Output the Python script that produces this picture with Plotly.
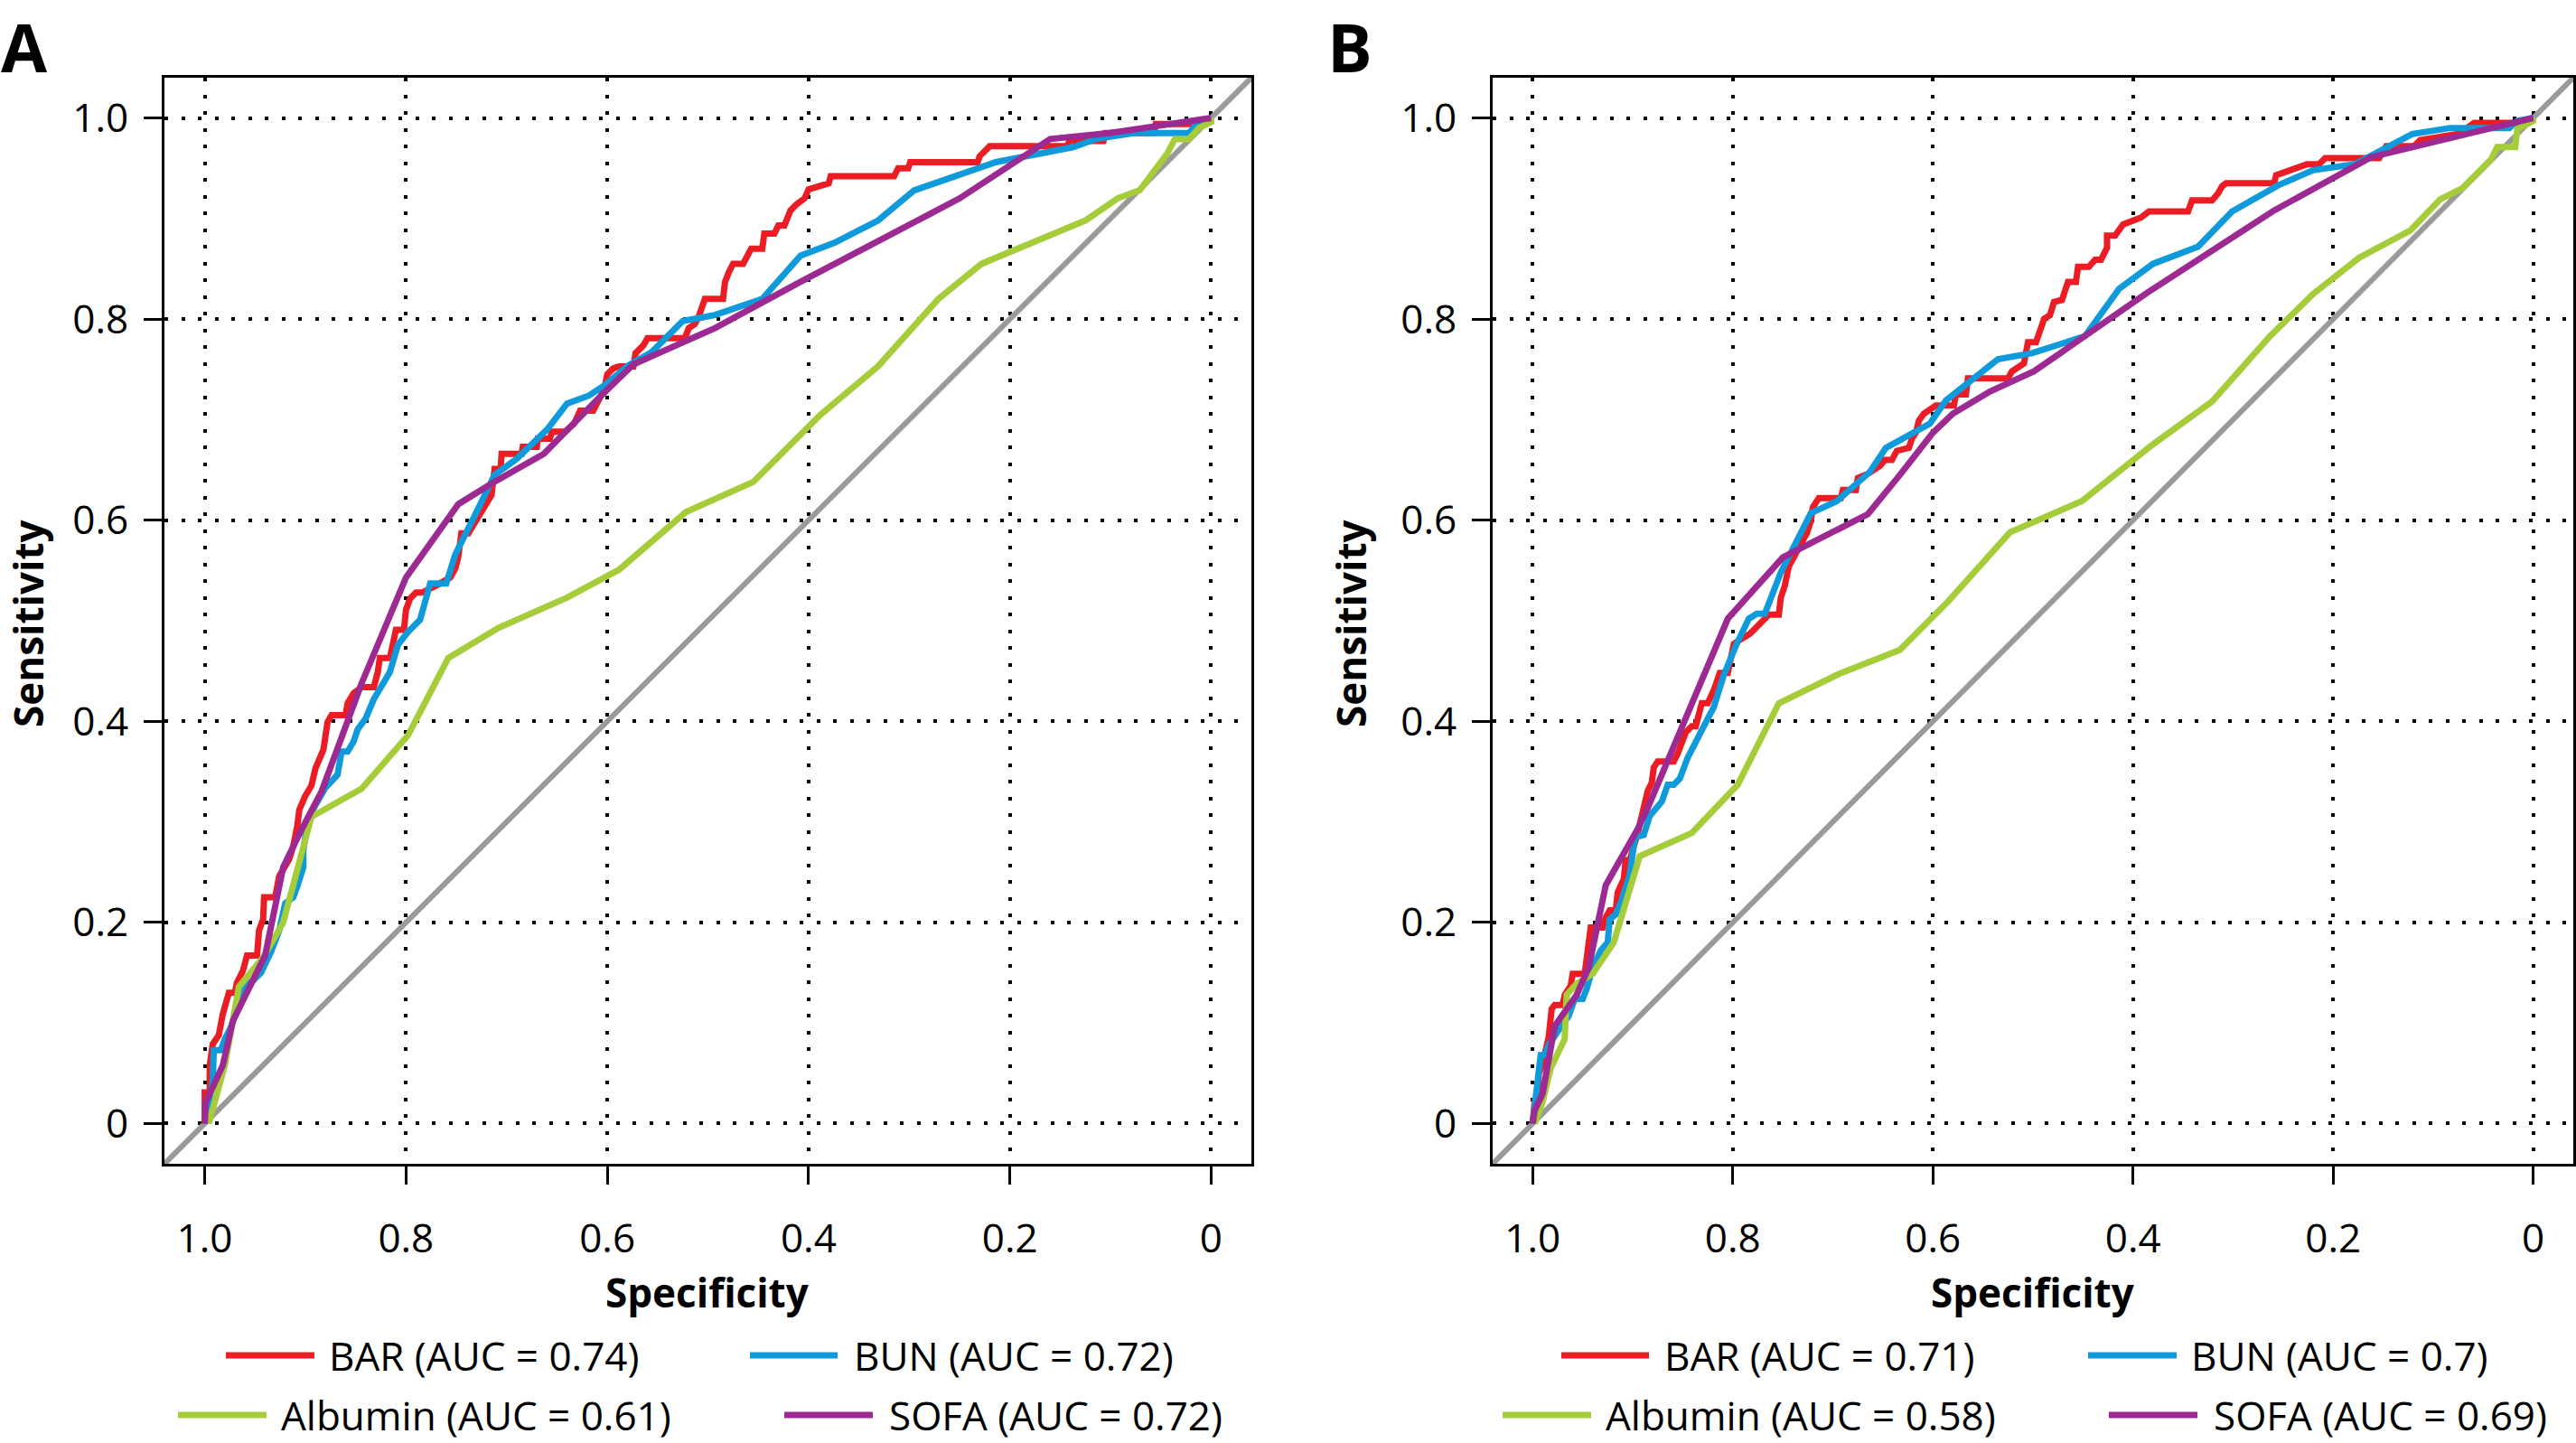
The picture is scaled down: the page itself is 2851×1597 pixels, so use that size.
import plotly.graph_objects as go

# ---------------- data (specificity, sensitivity) ----------------
# Panel A
a_bar_spec = [1.0, 1.0, 0.995, 0.995, 0.992, 0.986, 0.982, 0.978, 0.976, 0.97, 0.968, 0.962, 0.958, 0.948, 0.946, 0.942, 0.941, 0.93, 0.926, 0.916, 0.912, 0.908, 0.906, 0.9, 0.894, 0.89, 0.886, 0.882, 0.878, 0.874, 0.86, 0.858, 0.852, 0.844, 0.832, 0.828, 0.826, 0.816, 0.81, 0.802, 0.8, 0.796, 0.79, 0.784, 0.77, 0.756, 0.751, 0.748, 0.745, 0.738, 0.721, 0.715, 0.712, 0.706, 0.705, 0.685, 0.684, 0.67, 0.669, 0.657, 0.655, 0.642, 0.633, 0.627, 0.614, 0.609, 0.603, 0.6, 0.594, 0.588, 0.574, 0.572, 0.564, 0.56, 0.523, 0.519, 0.513, 0.509, 0.503, 0.485, 0.483, 0.479, 0.475, 0.465, 0.457, 0.446, 0.444, 0.434, 0.43, 0.424, 0.418, 0.412, 0.404, 0.4, 0.38, 0.378, 0.315, 0.311, 0.301, 0.299, 0.232, 0.23, 0.22, 0.143, 0.141, 0.107, 0.105, 0.057, 0.055, 0.012, 0.0]
a_bar_sens = [0.0, 0.031, 0.031, 0.058, 0.079, 0.088, 0.109, 0.127, 0.13, 0.13, 0.14, 0.152, 0.167, 0.167, 0.192, 0.203, 0.225, 0.225, 0.246, 0.263, 0.276, 0.296, 0.312, 0.326, 0.336, 0.353, 0.363, 0.372, 0.399, 0.406, 0.406, 0.418, 0.428, 0.434, 0.434, 0.449, 0.463, 0.463, 0.491, 0.491, 0.511, 0.522, 0.528, 0.528, 0.535, 0.543, 0.552, 0.564, 0.587, 0.587, 0.615, 0.625, 0.651, 0.651, 0.666, 0.666, 0.673, 0.673, 0.681, 0.681, 0.688, 0.688, 0.696, 0.709, 0.709, 0.719, 0.73, 0.745, 0.751, 0.753, 0.753, 0.766, 0.774, 0.781, 0.781, 0.791, 0.795, 0.803, 0.82, 0.82, 0.837, 0.847, 0.855, 0.855, 0.87, 0.87, 0.885, 0.885, 0.893, 0.893, 0.908, 0.914, 0.92, 0.929, 0.935, 0.942, 0.942, 0.95, 0.95, 0.956, 0.956, 0.962, 0.972, 0.972, 0.977, 0.977, 0.985, 0.985, 0.994, 0.994, 1.0]

a_bun_spec = [1.0, 0.992, 0.991, 0.984, 0.98, 0.974, 0.966, 0.96, 0.952, 0.944, 0.934, 0.926, 0.92, 0.912, 0.908, 0.902, 0.902, 0.898, 0.892, 0.88, 0.868, 0.864, 0.858, 0.852, 0.848, 0.84, 0.832, 0.816, 0.808, 0.798, 0.786, 0.776, 0.76, 0.751, 0.729, 0.712, 0.69, 0.66, 0.64, 0.618, 0.603, 0.579, 0.556, 0.525, 0.493, 0.446, 0.408, 0.374, 0.331, 0.295, 0.214, 0.137, 0.115, 0.077, 0.022, 0.016, 0.0]
a_bun_sens = [0.0, 0.042, 0.073, 0.073, 0.084, 0.096, 0.117, 0.138, 0.142, 0.15, 0.171, 0.192, 0.219, 0.225, 0.236, 0.255, 0.271, 0.301, 0.313, 0.334, 0.347, 0.37, 0.37, 0.38, 0.392, 0.403, 0.422, 0.449, 0.476, 0.489, 0.501, 0.537, 0.537, 0.566, 0.61, 0.645, 0.661, 0.69, 0.716, 0.724, 0.734, 0.754, 0.767, 0.798, 0.804, 0.82, 0.863, 0.876, 0.898, 0.928, 0.956, 0.971, 0.979, 0.985, 0.985, 0.992, 1.0]

a_alb_spec = [0.996, 0.98, 0.966, 0.942, 0.922, 0.894, 0.844, 0.798, 0.758, 0.708, 0.64, 0.588, 0.522, 0.455, 0.388, 0.331, 0.271, 0.228, 0.125, 0.093, 0.071, 0.044, 0.036, 0.022, 0.012, 0.0, 0.0]
a_alb_sens = [0.0, 0.058, 0.136, 0.165, 0.2, 0.305, 0.333, 0.386, 0.463, 0.493, 0.523, 0.551, 0.608, 0.638, 0.705, 0.753, 0.82, 0.855, 0.898, 0.92, 0.928, 0.964, 0.979, 0.979, 0.99, 0.996, 1.0]

a_sofa_spec = [1.0, 0.999, 0.982, 0.972, 0.94, 0.922, 0.904, 0.884, 0.844, 0.8, 0.748, 0.714, 0.663, 0.633, 0.606, 0.574, 0.493, 0.408, 0.25, 0.16, 0.101, 0.0]
a_sofa_sens = [0.0, 0.021, 0.058, 0.102, 0.167, 0.255, 0.292, 0.33, 0.438, 0.543, 0.616, 0.637, 0.666, 0.697, 0.724, 0.755, 0.791, 0.837, 0.92, 0.979, 0.985, 1.0]

# Panel B
b_bar_spec = [1.0, 0.998, 0.994, 0.994, 0.99, 0.984, 0.981, 0.978, 0.97, 0.968, 0.962, 0.96, 0.948, 0.946, 0.944, 0.942, 0.93, 0.927, 0.923, 0.917, 0.915, 0.909, 0.907, 0.903, 0.895, 0.891, 0.889, 0.885, 0.881, 0.879, 0.875, 0.859, 0.855, 0.851, 0.847, 0.841, 0.837, 0.831, 0.825, 0.819, 0.813, 0.805, 0.799, 0.793, 0.783, 0.776, 0.77, 0.764, 0.754, 0.752, 0.748, 0.744, 0.726, 0.722, 0.72, 0.714, 0.692, 0.69, 0.677, 0.675, 0.665, 0.653, 0.648, 0.641, 0.636, 0.624, 0.621, 0.617, 0.614, 0.609, 0.597, 0.579, 0.577, 0.567, 0.565, 0.525, 0.521, 0.513, 0.509, 0.505, 0.497, 0.491, 0.489, 0.483, 0.479, 0.471, 0.465, 0.457, 0.455, 0.444, 0.438, 0.432, 0.426, 0.426, 0.418, 0.41, 0.392, 0.384, 0.345, 0.341, 0.321, 0.315, 0.311, 0.307, 0.259, 0.257, 0.236, 0.226, 0.214, 0.208, 0.154, 0.147, 0.119, 0.113, 0.075, 0.059, 0.008, 0.0]
b_bar_sens = [0.0, 0.022, 0.022, 0.049, 0.06, 0.086, 0.114, 0.118, 0.118, 0.128, 0.137, 0.149, 0.149, 0.166, 0.178, 0.195, 0.195, 0.205, 0.212, 0.212, 0.23, 0.243, 0.262, 0.262, 0.289, 0.306, 0.314, 0.331, 0.339, 0.354, 0.36, 0.36, 0.368, 0.379, 0.389, 0.395, 0.395, 0.418, 0.418, 0.431, 0.448, 0.448, 0.477, 0.481, 0.487, 0.494, 0.5, 0.506, 0.506, 0.523, 0.535, 0.554, 0.587, 0.599, 0.613, 0.622, 0.622, 0.63, 0.63, 0.642, 0.646, 0.654, 0.66, 0.66, 0.669, 0.672, 0.681, 0.687, 0.699, 0.706, 0.714, 0.714, 0.725, 0.725, 0.741, 0.741, 0.748, 0.753, 0.756, 0.777, 0.777, 0.794, 0.8, 0.804, 0.817, 0.819, 0.837, 0.837, 0.852, 0.852, 0.859, 0.859, 0.871, 0.883, 0.883, 0.894, 0.901, 0.907, 0.907, 0.918, 0.918, 0.925, 0.932, 0.935, 0.935, 0.943, 0.95, 0.954, 0.954, 0.96, 0.96, 0.972, 0.972, 0.978, 0.984, 0.995, 0.995, 1.0]

b_bun_spec = [1.0, 0.996, 0.992, 0.988, 0.984, 0.974, 0.964, 0.958, 0.95, 0.946, 0.94, 0.932, 0.925, 0.923, 0.917, 0.911, 0.903, 0.899, 0.897, 0.889, 0.883, 0.871, 0.865, 0.859, 0.853, 0.845, 0.837, 0.829, 0.819, 0.809, 0.797, 0.784, 0.776, 0.768, 0.752, 0.722, 0.696, 0.675, 0.663, 0.647, 0.621, 0.603, 0.587, 0.561, 0.535, 0.501, 0.483, 0.448, 0.414, 0.38, 0.335, 0.301, 0.255, 0.22, 0.178, 0.121, 0.083, 0.024, 0.016, 0.0]
b_bun_sens = [0.0, 0.03, 0.068, 0.068, 0.078, 0.093, 0.107, 0.124, 0.124, 0.134, 0.155, 0.172, 0.18, 0.203, 0.208, 0.222, 0.247, 0.276, 0.285, 0.287, 0.306, 0.32, 0.337, 0.337, 0.343, 0.364, 0.381, 0.395, 0.414, 0.446, 0.475, 0.502, 0.507, 0.507, 0.548, 0.607, 0.619, 0.637, 0.648, 0.672, 0.687, 0.696, 0.719, 0.74, 0.76, 0.766, 0.772, 0.783, 0.83, 0.855, 0.872, 0.907, 0.933, 0.948, 0.954, 0.984, 0.99, 0.99, 0.997, 1.0]

b_alb_spec = [0.998, 0.99, 0.982, 0.974, 0.968, 0.966, 0.956, 0.94, 0.919, 0.893, 0.841, 0.795, 0.754, 0.692, 0.633, 0.585, 0.523, 0.451, 0.382, 0.321, 0.263, 0.22, 0.174, 0.123, 0.093, 0.071, 0.042, 0.036, 0.018, 0.016, 0.0, 0.0]
b_alb_sens = [0.0, 0.022, 0.055, 0.07, 0.084, 0.128, 0.139, 0.149, 0.18, 0.266, 0.289, 0.337, 0.418, 0.448, 0.471, 0.519, 0.588, 0.619, 0.674, 0.718, 0.783, 0.825, 0.861, 0.888, 0.919, 0.93, 0.959, 0.971, 0.971, 0.989, 0.997, 1.0]

b_sofa_spec = [1.0, 0.998, 0.99, 0.978, 0.956, 0.944, 0.927, 0.895, 0.885, 0.805, 0.75, 0.665, 0.633, 0.6, 0.58, 0.543, 0.499, 0.386, 0.259, 0.162, 0.0]
b_sofa_sens = [0.0, 0.013, 0.03, 0.097, 0.128, 0.155, 0.237, 0.293, 0.314, 0.502, 0.563, 0.606, 0.645, 0.687, 0.706, 0.728, 0.748, 0.826, 0.908, 0.961, 1.0]

# reference (chance) line
diag_spec = [1.1, -0.1]
diag_sens = [-0.1, 1.1]

tick_vals = [0, 0.2, 0.4, 0.6, 0.8, 1.0]
tick_text = ["0", "0.2", "0.4", "0.6", "0.8", "1.0"]

series_names = ["BAR", "BUN", "Albumin", "SOFA"]
auc_a = ["0.74", "0.72", "0.61", "0.72"]
auc_b = ["0.71", "0.7", "0.58", "0.69"]
colors = ["#EC1C24", "#0E9ADB", "#A5CD39", "#9C2A92"]
grey = "#9A9A9A"

W, H = 2851, 1597
FONT = "Open Sans"

def px(xp):
    return xp / W

def py(yp):
    return 1 - yp / H

fig = go.Figure()

panels = [
    ("x", "y", [(a_bar_spec, a_bar_sens), (a_bun_spec, a_bun_sens),
                (a_alb_spec, a_alb_sens), (a_sofa_spec, a_sofa_sens)]),
    ("x2", "y2", [(b_bar_spec, b_bar_sens), (b_bun_spec, b_bun_sens),
                  (b_alb_spec, b_alb_sens), (b_sofa_spec, b_sofa_sens)]),
]

for xa, ya, curves in panels:
    fig.add_trace(go.Scatter(x=diag_spec, y=diag_sens, mode="lines",
                             line=dict(color=grey, width=6),
                             xaxis=xa, yaxis=ya, showlegend=False, hoverinfo="skip"))
    for (sx, sy), c in zip(curves, colors):
        fig.add_trace(go.Scatter(x=sx, y=sy, mode="lines",
                                 line=dict(color=c, width=7),
                                 xaxis=xa, yaxis=ya, showlegend=False))

axis_common = dict(
    tickvals=tick_vals, ticktext=tick_text,
    ticks="outside", ticklen=20, tickwidth=3, tickcolor="black",
    showline=True, linecolor="black", linewidth=3, mirror=True,
    showgrid=True, gridcolor="black", gridwidth=4, griddash="4px,14.5px",
    zeroline=False,
    tickfont=dict(family=FONT, size=44, color="black"),
)

ydom = [py(1288), py(86)]
fig.update_layout(
    width=W, height=H,
    margin=dict(l=0, r=0, t=0, b=0),
    paper_bgcolor="white", plot_bgcolor="white",
    showlegend=False,
    xaxis=dict(domain=[px(182), px(1385)], range=[1.04, -0.04], anchor="y",
               ticklabelstandoff=22, **axis_common),
    yaxis=dict(domain=ydom, range=[-0.04, 1.04], anchor="x",
               ticklabelstandoff=8, **axis_common),
    xaxis2=dict(domain=[px(1652), px(2848)], range=[1.04, -0.04], anchor="y2",
                ticklabelstandoff=22, **axis_common),
    yaxis2=dict(domain=ydom, range=[-0.04, 1.04], anchor="x2",
                ticklabelstandoff=8, **axis_common),
)

annotations = []
shapes = []

# panel letters
for letter, xl in [("A", 0), ("B", 1468)]:
    annotations.append(dict(text="<b>%s</b>" % letter, x=px(xl), y=py(0),
                            xref="paper", yref="paper", xanchor="left", yanchor="top",
                            borderpad=0, showarrow=False,
                            font=dict(family=FONT, size=74, color="black")))

# axis titles
for xc, ylab_x in [(783, 31), (2250, 1495)]:
    annotations.append(dict(text="<b>Specificity</b>", x=px(xc), y=py(1430),
                            xref="paper", yref="paper", xanchor="center", yanchor="middle",
                            showarrow=False, font=dict(family=FONT, size=44, color="black")))
    annotations.append(dict(text="<b>Sensitivity</b>", x=px(ylab_x), y=py(690),
                            xref="paper", yref="paper", xanchor="center", yanchor="middle",
                            textangle=-90, borderpad=0, showarrow=False,
                            font=dict(family=FONT, size=44, color="black")))

# legend keys: (line start, line end, text start, row y)
legend_pos_a = [(250, 348, 362, 1500), (830, 927, 943, 1500),
                (197, 295, 309, 1566), (868, 966, 982, 1566)]
legend_pos_b = [(1728, 1825, 1840, 1500), (2311, 2409, 2423, 1500),
                (1663, 1761, 1775, 1566), (2334, 2432, 2448, 1566)]

for pos, aucs in [(legend_pos_a, auc_a), (legend_pos_b, auc_b)]:
    for (x0, x1, xt, yr), name, auc, c in zip(pos, series_names, aucs, colors):
        shapes.append(dict(type="line", xref="paper", yref="paper",
                           x0=px(x0), x1=px(x1), y0=py(yr), y1=py(yr),
                           line=dict(color=c, width=7)))
        annotations.append(dict(text="%s (AUC = %s)" % (name, auc), x=px(xt), y=py(yr),
                                xref="paper", yref="paper", xanchor="left", yanchor="middle",
                                showarrow=False,
                                font=dict(family=FONT, size=44, color="black")))

fig.update_layout(annotations=annotations, shapes=shapes)

fig.write_html("out.html", config={"displayModeBar": False},
               post_script="document.body.style.margin='0';document.body.style.overflow='hidden';")
